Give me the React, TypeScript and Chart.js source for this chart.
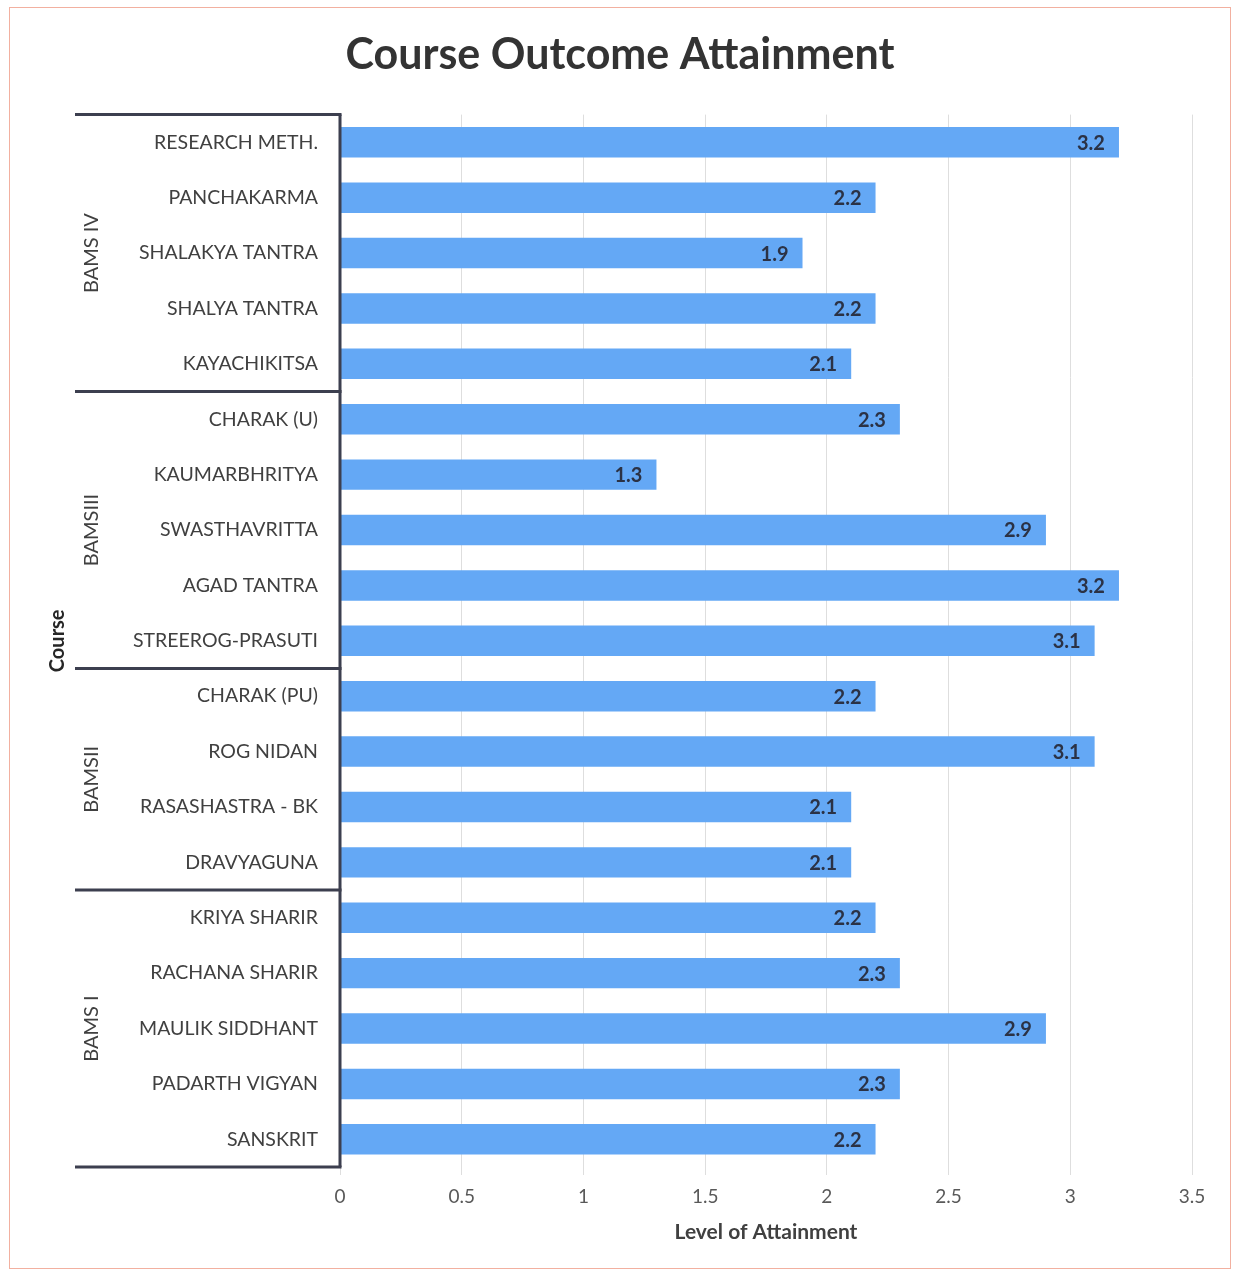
import React, { useEffect, useRef } from "react";
import { Chart, registerables } from "chart.js";

Chart.register(...registerables);

const categories = [
  "RESEARCH METH.", "PANCHAKARMA", "SHALAKYA TANTRA", "SHALYA TANTRA", "KAYACHIKITSA",
  "CHARAK (U)", "KAUMARBHRITYA", "SWASTHAVRITTA", "AGAD TANTRA", "STREEROG-PRASUTI",
  "CHARAK (PU)", "ROG NIDAN", "RASASHASTRA - BK", "DRAVYAGUNA",
  "KRIYA SHARIR", "RACHANA SHARIR", "MAULIK SIDDHANT", "PADARTH VIGYAN", "SANSKRIT",
];
const values = [3.2, 2.2, 1.9, 2.2, 2.1, 2.3, 1.3, 2.9, 3.2, 3.1, 2.2, 3.1, 2.1, 2.1, 2.2, 2.3, 2.9, 2.3, 2.2];
const groupNames = ["BAMS IV", "BAMSIII", "BAMSII", "BAMS I"];
const groupSizes = [5, 5, 4, 5];
const xTicks = [0, 0.5, 1, 1.5, 2, 2.5, 3, 3.5];

const FONT = "Lato, 'Noto Sans', sans-serif";

const groupPlugin = {
  id: "groupPlugin",
  afterDatasetsDraw(chart: any) {
    const { ctx, chartArea, scales } = chart;
    const y = scales.y;
    const step = (chartArea.bottom - chartArea.top) / categories.length;
    ctx.save();
    // data labels
    const meta = chart.getDatasetMeta(0);
    ctx.font = `bold 20px ${FONT}`;
    ctx.fillStyle = "#2b3245";
    ctx.textAlign = "right";
    ctx.textBaseline = "middle";
    meta.data.forEach((bar: any, i: number) => {
      ctx.fillText(values[i].toFixed(1), bar.x - 14, bar.y + 1);
    });
    // axis line and brackets
    ctx.strokeStyle = "#3c3f4f";
    ctx.lineWidth = 3;
    ctx.beginPath();
    ctx.moveTo(chartArea.left, chartArea.top);
    ctx.lineTo(chartArea.left, chartArea.bottom);
    ctx.stroke();
    let idx = 0;
    const bounds: number[] = [y.getPixelForValue(0) - step / 2];
    groupSizes.forEach((n) => {
      idx += n;
      bounds.push(y.getPixelForValue(idx - 1) + step / 2);
    });
    bounds.forEach((b) => {
      ctx.beginPath();
      ctx.moveTo(65, b);
      ctx.lineTo(chartArea.left + 1.5, b);
      ctx.stroke();
    });
    // group labels
    ctx.font = `20px ${FONT}`;
    ctx.fillStyle = "#404040";
    ctx.textAlign = "center";
    groupNames.forEach((g, i) => {
      const cy = (bounds[i] + bounds[i + 1]) / 2;
      ctx.save();
      ctx.translate(82, cy);
      ctx.rotate(-Math.PI / 2);
      ctx.fillText(g, 0, 0);
      ctx.restore();
    });
    ctx.restore();
  },
};

export default function App() {
  const ref = useRef<HTMLCanvasElement>(null);
  useEffect(() => {
    if (!ref.current) return;
    const chart = new Chart(ref.current, {
      type: "bar",
      data: {
        labels: categories,
        datasets: [
          {
            data: values,
            backgroundColor: "#64a8f5",
            barPercentage: 0.55,
            categoryPercentage: 1,
          },
        ],
      },
      options: {
        indexAxis: "y",
        animation: false,
        responsive: false,
        layout: { padding: 0 },
        plugins: {
          legend: { display: false },
          tooltip: { enabled: false },
          title: {
            display: true,
            text: "Course Outcome Attainment",
            color: "#333333",
            font: { family: FONT, size: 43, weight: "bold" },
            padding: { top: 21, bottom: 34 },
          },
        },
        scales: {
          x: {
            min: 0,
            max: 3.5,
            afterBuildTicks: (s: any) => {
              s.ticks = xTicks.map((v) => ({ value: v }));
            },
            afterFit: (s: any) => {
              s.height = 101;
              s.paddingRight = 38;
            },
            grid: { color: "#dedede", lineWidth: 1, tickLength: 8, drawTicks: true },
            border: { display: false },
            ticks: {
              color: "#595959",
              font: { family: FONT, size: 19 },
              padding: 10,
              maxRotation: 0,
              callback: (v: any) => String(Number(v)),
            },
            title: {
              display: true,
              text: "Level of Attainment",
              color: "#404040",
              font: { family: FONT, size: 21, weight: "bold" },
              padding: { top: 4, bottom: 23 },
            },
          },
          y: {
            afterFit: (s: any) => {
              s.width = 330;
            },
            grid: { display: false, drawTicks: false },
            border: { display: false },
            ticks: {
              color: "#404040",
              font: { family: FONT, size: 19.5 },
              padding: 22,
              autoSkip: false,
            },
            title: {
              display: true,
              text: "Course",
              color: "#262626",
              font: { family: FONT, size: 20, weight: "bold" },
              padding: { top: 36, bottom: 0 },
            },
          },
        },
      },
      plugins: [groupPlugin],
    } as any);
    return () => chart.destroy();
  }, []);
  return (
    <div
      style={{
        position: "absolute",
        left: 9,
        top: 7,
        width: 1222,
        height: 1262,
        border: "1px solid #f2b0a0",
        boxSizing: "border-box",
        background: "#ffffff",
      }}
    >
      <canvas ref={ref} width={1220} height={1260} style={{ display: "block", width: 1220, height: 1260 }} />
    </div>
  );
}
